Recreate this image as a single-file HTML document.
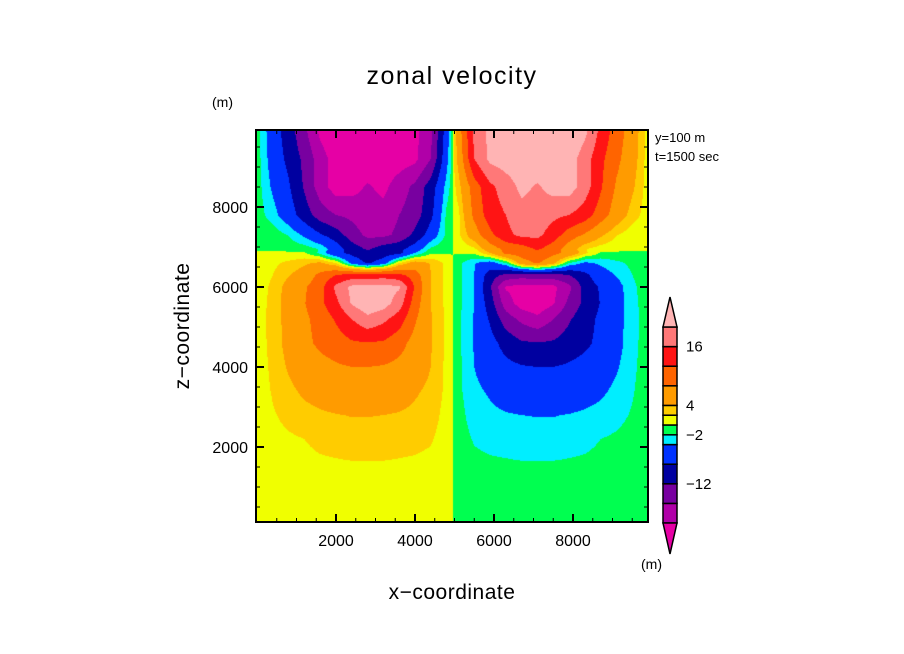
<!DOCTYPE html>
<html><head><meta charset="utf-8">
<style>
html,body{margin:0;padding:0;background:#fff;}
#root{position:relative;width:904px;height:654px;overflow:hidden;font-family:"Liberation Sans",sans-serif;}
svg text{font-family:"Liberation Sans",sans-serif;}
</style></head>
<body>
<div id="root">
<canvas id="field" width="392" height="392" style="position:absolute;left:256px;top:130px;"></canvas>
<svg id="svg" width="904" height="654" style="position:absolute;left:0;top:0;">
<text x="452" y="84" text-anchor="middle" font-size="25" letter-spacing="1.5">zonal velocity</text>
<text x="212" y="107" font-size="14">(m)</text>
<text x="655" y="142" font-size="13">y=100 m</text>
<text x="655" y="161" font-size="13">t=1500 sec</text>
<text x="452" y="599" text-anchor="middle" font-size="21" letter-spacing="0.5">x−coordinate</text>
<text transform="translate(189,326) rotate(-90)" text-anchor="middle" font-size="21" letter-spacing="0.5">z−coordinate</text>
<text x="641" y="569" font-size="14">(m)</text>
<g id="axes"></g>
<g id="cbar"></g>
</svg>
</div>
<script>
// ---- data ----
const xCols = [0,400,800,1200,1600,2000,2400,2800,3200,3600,4000,4400,4800,4950];
const zRows = [9900,9200,8500,7800,7300,6950,6850,6600,6300,6000,5600,5200,4600,4000,3400,2800,2200,1600,800,100];
const uRow9900 = [-1,-6,-10,-15,-21,-24,-25,-25,-24,-23,-21,-17,-6,-1];
const uRow9200 = [-1,-5.5,-9,-13,-18,-22,-23,-23,-22.5,-22,-21,-16,-5,-1];
const uRow8500 = [-1,-4.5,-7.5,-12.5,-18,-22,-21.5,-19.5,-21,-18,-15,-10,-3,-1];
const uRow7800 = [-1,-3,-6,-10,-14,-16,-17,-18.5,-18.5,-16,-14,-9,-1.5,-0.8];
const uRow7300 = [-0.5,-0.8,-2.1,-4.5,-7.5,-10,-14,-17,-17,-15,-11,-6,-1.5,-0.5];
const uRow6950 = [-0.3,-0.4,-0.6,-1,-2.1,-6,-10,-12.5,-10,-9,-6,-1.5,-0.5,-0.3];
const uRow6850 = [0.3,0.5,0.3,0.2,-2.5,-7,-9,-11,-10,-9,-4,-0.3,-0.2,-0.2];
const uRow6600 = [0.8,1.5,2.5,3.5,4.5,2,-5,-8.5,-6,2,5.5,3.8,1.5,1];
const uRow6300 = [1,2,3.8,5.5,9,12,13.5,13,14,13,10,4,1.5,1];
const uRow6000 = [1,2.4,5.2,7.5,10.5,17,21,21.5,21.5,20.5,11.5,4,1.5,1];
const uRow5600 = [1,2.6,5.3,7.8,11,15,20.5,23,22,18,10,4,1.5,1];
const uRow5200 = [1,2.8,5,7.2,9.5,12.5,16,19,17,14,8.5,4.2,1.5,1];
const uRow4600 = [0.9,2.7,5,7,8.8,10,11.5,11.8,11.5,9.5,6.5,4.2,1.5,1];
const uRow4000 = [0.8,2.5,4.3,5.8,6.7,7.5,8,8,7.7,6.9,5.5,4,1.5,1];
const uRow3400 = [0.8,2.2,3.4,4.5,5.2,6,6.4,6.4,6.1,5.3,4.3,3.5,1.5,1];
const uRow2800 = [0.7,1.8,2.6,3.2,3.6,3.9,4.1,4.1,4,3.8,3.5,3,1.2,0.8];
const uRow2200 = [0.6,1.3,1.7,2,2.5,2.8,3,3,3,2.8,2.6,2.2,1,0.7];
const uRow1600 = [0.5,1,1.3,1.5,1.7,1.8,1.9,1.9,1.9,1.8,1.7,1.5,0.8,0.6];
const uRow800 = [0.4,0.8,1,1.1,1.2,1.3,1.3,1.3,1.3,1.2,1.1,1,0.6,0.5];
const uRow100 = [0.3,0.5,0.6,0.7,0.7,0.7,0.7,0.7,0.7,0.7,0.7,0.6,0.4,0.3];
const uLeft = [uRow9900,uRow9200,uRow8500,uRow7800,uRow7300,uRow6950,uRow6850,uRow6600,uRow6300,uRow6000,uRow5600,uRow5200,uRow4600,uRow4000,uRow3400,uRow2800,uRow2200,uRow1600,uRow800,uRow100];
const mirrorX = 4950; // right half is antisymmetric mirror of left half
const levels = [-20,-16,-12,-8,-4,-2,0,2,4,8,12,16,20];
const levelColors = ["#E600A5","#B000A8","#7800A0","#0000A0","#0032FF","#00EEFF","#00FF50","#F0FF00","#FFCC00","#FF9B00","#FF6400","#FF1414","#FF7878","#FFB4B4"];
const xTicks = [2000,4000,6000,8000];
const zTicks = [2000,4000,6000,8000];
const cbLabels = [16,4,-2,-12];

// ---- scales ----
const xScale = x => 257 + x*0.0395;
const zScale = z => 527 - z*0.04;
const xInv = px => (px-257)/0.0395;
const zInv = py => (527-py)/0.04;
const PL=256, PT=130, PR=648, PB=522;

function findIdx(arr, v, desc){
  const n=arr.length;
  for(let i=0;i<n-1;i++){
    const a=arr[i], b=arr[i+1];
    if(desc ? (v<=a && v>=b) : (v>=a && v<=b)) return [i,(v-a)/(b-a)];
  }
  if(desc ? v>arr[0] : v<arr[0]) return [0,0];
  return [n-2,1];
}
function sampleLeft(x,z){
  const [i,tx]=findIdx(xCols,x,false);
  const [j,tz]=findIdx(zRows,z,true);
  const a=uLeft[j][i], b=uLeft[j][i+1], c=uLeft[j+1][i], d=uLeft[j+1][i+1];
  return (a*(1-tx)+b*tx)*(1-tz)+(c*(1-tx)+d*tx)*tz;
}
function value(x,z){
  if(x<=mirrorX) return sampleLeft(x,z);
  return -sampleLeft(2*mirrorX-x,z);
}
function colorFor(v){
  let k=0; while(k<levels.length && v>=levels[k]) k++;
  return levelColors[k];
}
function hexRgb(h){return [parseInt(h.substr(1,2),16),parseInt(h.substr(3,2),16),parseInt(h.substr(5,2),16)];}

// ---- draw field ----
const cv=document.getElementById('field');
const ctx=cv.getContext('2d');
const img=ctx.createImageData(392,392);
for(let py=0;py<392;py++){
  for(let px=0;px<392;px++){
    const v=value(xInv(PL+px+0.5), zInv(PT+py+0.5));
    const c=hexRgb(colorFor(v));
    const o=(py*392+px)*4;
    img.data[o]=c[0];img.data[o+1]=c[1];img.data[o+2]=c[2];img.data[o+3]=255;
  }
}
ctx.putImageData(img,0,0);

// ---- axes ----
const NS="http://www.w3.org/2000/svg";
const axes=document.getElementById('axes');
function mk(tag,attrs,parent){const e=document.createElementNS(NS,tag);for(const k in attrs)e.setAttribute(k,attrs[k]);parent.appendChild(e);return e;}
const frame=mk('rect',{x:PL,y:PT,width:PR-PL,height:PB-PT,fill:'none',stroke:'#000','stroke-width':2},axes);


for(let t=500;t<10000;t+=500){
  const major=(t%2000===0);
  const L=major?8:4;
  const xp=xScale(t), zp=zScale(t);
  if(xp<PR-1){
    const a=mk('line',{x1:xp,y1:PB,x2:xp,y2:PB-L,stroke:'#000','stroke-width':major?2:1},axes);
    
    
    const b=mk('line',{x1:xp,y1:PT,x2:xp,y2:PT+L,stroke:'#000','stroke-width':major?2:1},axes);
    
    
  }
  if(zp>PT+1){
    const a=mk('line',{x1:PL,y1:zp,x2:PL+L,y2:zp,stroke:'#000','stroke-width':major?2:1},axes);
    
    
    const b=mk('line',{x1:PR,y1:zp,x2:PR-L,y2:zp,stroke:'#000','stroke-width':major?2:1},axes);
    
    
  }
}
xTicks.forEach(t=>{
  const e=mk('text',{x:xScale(t),y:546,'text-anchor':'middle','font-size':16},axes);
  e.textContent=t;
  
  
});
zTicks.forEach(t=>{
  const e=mk('text',{x:248,y:zScale(t)+6,'text-anchor':'end','font-size':16},axes);
  e.textContent=t;
  
  
});

// ---- colorbar ----
const cb=document.getElementById('cbar');
const cbY = v => 425 - v*4.9;
const CX0=663, CX1=677;
for(let k=0;k<levels.length-1;k++){
  const r=mk('rect',{x:CX0,y:cbY(levels[k+1]),width:CX1-CX0,height:cbY(levels[k])-cbY(levels[k+1]),fill:levelColors[k+1],stroke:'#000','stroke-width':1.5},cb);
  
  
}
const cbTop=mk('polygon',{points:`${CX0},${cbY(20)} ${CX1},${cbY(20)} ${(CX0+CX1)/2},${cbY(20)-30}`,fill:levelColors[13],stroke:'#000','stroke-width':1.5},cb);


const cbBot=mk('polygon',{points:`${CX0},${cbY(-20)} ${CX1},${cbY(-20)} ${(CX0+CX1)/2},${cbY(-20)+31}`,fill:levelColors[0],stroke:'#000','stroke-width':1.5},cb);


cbLabels.forEach(v=>{
  const e=mk('text',{x:686,y:cbY(v)+5,'font-size':15},cb);
  e.textContent=String(v).replace('-','−');
  
  
});
</script>
</body></html>
